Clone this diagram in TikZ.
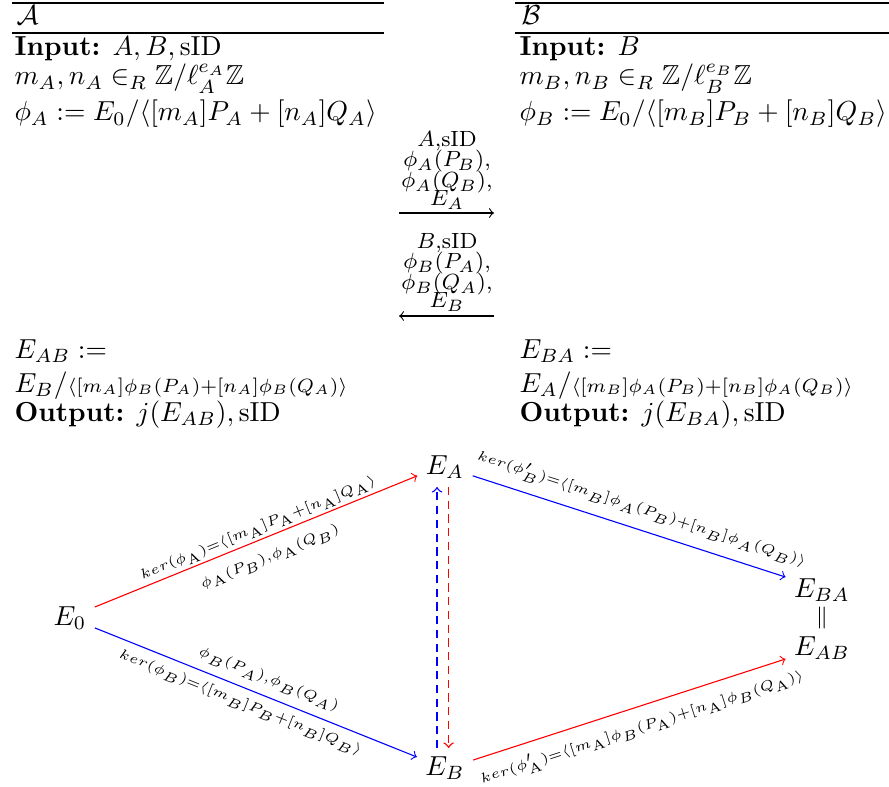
\documentclass[tikz,border=0pt]{standalone}
\usepackage{amssymb}
\begin{document}
\begin{tikzpicture}[x=0.3636pt,y=-0.3636pt,
  txt/.style={anchor=base west,inner sep=0pt,font=\normalsize},
  msg/.style={anchor=base,inner sep=0pt,font=\fontsize{8}{9}\selectfont},
  hrule/.style={line width=0.5pt},
  vert/.style={font=\normalsize,inner sep=2.9pt},
  lbl/.style={font=\fontsize{7}{8}\selectfont,inner sep=0pt,sloped,text=black},
  msgarrow/.style={->,line width=0.4pt},
  redarrow/.style={->,red,line width=0.4pt},
  bluearrow/.style={->,blue,line width=0.4pt},
  dasharrow/.style={->,line width=0.5pt,dash pattern=on 3pt off 2pt}
]
\useasboundingbox (0,0) rectangle (889,786);

% column headers
\draw[hrule] (12,3) -- (384,3);
\draw[hrule] (12,33) -- (384,33);
\draw[hrule] (515,3) -- (889,3);
\draw[hrule] (515,33) -- (889,33);
\node[txt] (calA) at (16,25) {$\mathcal{A}$};
\node[txt] (calB) at (521,25) {$\mathcal{B}$};

% left column
\node[txt] (inA) at (14,56) {\textbf{Input:} $A,B,\mathrm{sID}$};
\node[txt] (mA) at (14,85) {$m_A,n_A\in_R\mathbb{Z}/\ell_A^{e_A}\mathbb{Z}$};
\node[txt] (phiA) at (14,121) {$\phi_A:=E_0/\langle[m_A]P_A+[n_A]Q_A\rangle$};
\node[txt] (EABdef) at (14,358) {$E_{AB}:=$};
\node[txt] (EABexp) at (14,392) {$E_B/{\scriptstyle\langle[m_A]\phi_B(P_A)+[n_A]\phi_B(Q_A)\rangle}$};
\node[txt] (outA) at (14,421) {\textbf{Output:} $j(E_{AB}),\mathrm{sID}$};

% right column
\node[txt] (inB) at (519,56) {\textbf{Input:} $B$};
\node[txt] (mB) at (519,85) {$m_B,n_B\in_R\mathbb{Z}/\ell_B^{e_B}\mathbb{Z}$};
\node[txt] (phiB) at (519,121) {$\phi_B:=E_0/\langle[m_B]P_B+[n_B]Q_B\rangle$};
\node[txt] (EBAdef) at (519,358) {$E_{BA}:=$};
\node[txt] (EBAexp) at (519,392) {$E_A/{\scriptstyle\langle[m_B]\phi_A(P_B)+[n_B]\phi_A(Q_B)\rangle}$};
\node[txt] (outB) at (519,421) {\textbf{Output:} $j(E_{BA}),\mathrm{sID}$};

% messages
\coordinate (m1s) at (399,213);
\coordinate (m1e) at (494,213);
\coordinate (m2s) at (494,316);
\coordinate (m2e) at (399,316);
\draw[msgarrow] (m1s) -- (m1e);
\draw[msgarrow] (m2s) -- (m2e);
\node[msg] (a1) at (447,147) {$A$,sID};
\node[msg] (a2) at (447,167) {$\phi_A(P_B)$,};
\node[msg] (a3) at (447,188) {$\phi_A(Q_B)$,};
\node[msg] (a4) at (447,206) {$E_A$};
\node[msg] (b1) at (447,249) {$B$,sID};
\node[msg] (b2) at (447,269) {$\phi_B(P_A)$,};
\node[msg] (b3) at (447,290) {$\phi_B(Q_A)$,};
\node[msg] (b4) at (447,308) {$E_B$};

% isogeny diagram
\node[vert] (E0) at (70,618) {$E_0$};
\node[vert] (EA) at (445,467) {$E_A$};
\node[vert] (EB) at (445,768) {$E_B$};
\node[vert] (EBA) at (822,590) {$E_{BA}$};
\node[vert,inner sep=0pt,font=\footnotesize] (eq) at (822,618) {$\|$};
\node[vert] (EAB) at (822,648) {$E_{AB}$};

\draw[redarrow] ([yshift=4pt]E0.east) --
  node[lbl,above=1pt,pos=.52] {$\scriptstyle ker(\phi_{\mathrm{A}})=\langle[m_{\mathrm{A}}]P_{\mathrm{A}}+[n_{\mathrm{A}}]Q_{\mathrm{A}}\rangle$}
  node[lbl,below=4.4pt,pos=.52] {$\scriptstyle\phi_{\mathrm{A}}(P_B),\phi_{\mathrm{A}}(Q_B)$}
  ([yshift=-3.2pt]EA.west);
\draw[bluearrow] ([yshift=-3.6pt]E0.east) --
  node[lbl,above=3.1pt,pos=.52] {$\scriptstyle\phi_B(P_A),\phi_B(Q_A)$}
  node[lbl,below=2.8pt,pos=.47] {$\scriptstyle ker(\phi_B)=\langle[m_B]P_B+[n_B]Q_B\rangle$}
  ([yshift=4pt]EB.west);
\draw[bluearrow] ([yshift=-3.2pt]EA.east) --
  node[lbl,above=3.5pt,pos=.52] {$\scriptstyle ker(\phi'_B)=\langle[m_B]\phi_A(P_B)+[n_B]\phi_A(Q_B)\rangle$}
  ([yshift=4.7pt]EBA.west);
\draw[redarrow] ([yshift=2.9pt]EB.east) --
  node[lbl,below=4pt,pos=.52] {$\scriptstyle ker(\phi'_{\mathrm{A}})=\langle[m_{\mathrm{A}}]\phi_B(P_{\mathrm{A}})+[n_{\mathrm{A}}]\phi_B(Q_{\mathrm{A}})\rangle$}
  ([yshift=-4pt]EAB.west);

\draw[dasharrow,blue] ([xshift=-2.9pt]EB.north) -- ([xshift=-2.9pt]EA.south);
\draw[dasharrow,red] ([xshift=1.3pt]EA.south) -- ([xshift=1.3pt]EB.north);
\end{tikzpicture}
\end{document}
